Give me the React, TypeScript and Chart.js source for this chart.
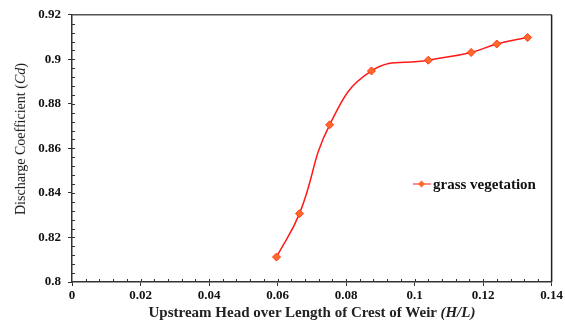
import React, { useEffect, useRef } from "react";
import { Chart, registerables } from "chart.js";

Chart.register(...registerables);

const headRatio = [0.0597, 0.0664, 0.0752, 0.0874, 0.104, 0.1165, 0.124, 0.133];
const dischargeCoef = [0.8112, 0.8307, 0.8706, 0.8948, 0.8996, 0.9031, 0.9069, 0.9098];
const seriesName = "grass vegetation";
const xTickValues = [0, 0.02, 0.04, 0.06, 0.08, 0.1, 0.12, 0.14];
const yTickValues = [0.8, 0.82, 0.84, 0.86, 0.88, 0.9, 0.92];

const FONT = "'Liberation Serif', 'Times New Roman', serif";

const framePlugin = {
  id: "frameAndMinor",
  afterDraw(chart: any) {
    const { ctx, chartArea } = chart;
    const xs = chart.scales.x;
    const ys = chart.scales.y;
    ctx.save();
    ctx.strokeStyle = "#555";
    ctx.lineWidth = 1.5;
    ctx.beginPath();
    ctx.moveTo(chartArea.left, chartArea.top);
    ctx.lineTo(chartArea.right, chartArea.top);
    ctx.stroke();
    ctx.strokeStyle = "#222";
    ctx.beginPath();
    ctx.moveTo(chartArea.right, chartArea.top);
    ctx.lineTo(chartArea.right, chartArea.bottom);
    ctx.stroke();
    ctx.strokeStyle = "#333";
    ctx.lineWidth = 1;
    for (let i = 1; i < 35; i++) {
      const v = i * 0.004;
      const px = Math.round(xs.getPixelForValue(v)) + 0.5;
      ctx.beginPath();
      ctx.moveTo(px, chartArea.bottom);
      ctx.lineTo(px, chartArea.bottom - 3);
      ctx.stroke();
    }
    for (let i = 1; i < 30; i++) {
      const v = 0.8 + i * 0.004;
      const py = Math.round(ys.getPixelForValue(v)) + 0.5;
      ctx.beginPath();
      ctx.moveTo(chartArea.left, py);
      ctx.lineTo(chartArea.left + 3, py);
      ctx.stroke();
    }
    ctx.restore();
  },
};

export default function App() {
  const canvasRef = useRef<HTMLCanvasElement | null>(null);

  useEffect(() => {
    const chart = new Chart(canvasRef.current as HTMLCanvasElement, {
      type: "line",
      data: {
        datasets: [
          {
            label: seriesName,
            data: headRatio.map((x, i) => ({ x, y: dischargeCoef[i] })),
            borderColor: "#ff1a1a",
            borderWidth: 1.5,
            backgroundColor: "#ff6a28",
            pointBackgroundColor: "#ff6a28",
            pointBorderColor: "#ff3a1a",
            pointBorderWidth: 1,
            pointStyle: "rectRot",
            pointRadius: 4,
            tension: 0.45,
            fill: false,
          },
        ],
      },
      options: {
        responsive: false,
        animation: false,
        layout: { padding: { left: 0, top: 9, right: 12, bottom: 0 } },
        plugins: {
          legend: { display: false },
          tooltip: { enabled: false },
        },
        scales: {
          x: {
            type: "linear",
            min: 0,
            max: 0.14,
            afterBuildTicks: (s: any) => {
              s.ticks = xTickValues.map((v) => ({ value: v }));
            },
            afterFit: (s: any) => {
              s.height = 44;
            },
            ticks: {
              color: "#111",
              font: { family: FONT, size: 13, weight: "bold" },
              padding: 2,
              maxRotation: 0,
              callback: (v: any) => String(Number(Number(v).toFixed(2))),
            },
            grid: { drawOnChartArea: false, tickLength: 4, color: "#333" },
            border: { color: "#333", width: 1.5 },
          },
          y: {
            type: "linear",
            min: 0.8,
            max: 0.92,
            afterBuildTicks: (s: any) => {
              s.ticks = yTickValues.map((v) => ({ value: v }));
            },
            afterFit: (s: any) => {
              s.width = 72;
            },
            ticks: {
              color: "#111",
              font: { family: FONT, size: 13, weight: "bold" },
              padding: 7,
              callback: (v: any) => String(Number(Number(v).toFixed(2))),
            },
            grid: { drawOnChartArea: false, tickLength: 4, color: "#333" },
            border: { color: "#333", width: 1.5 },
          },
        },
      },
      plugins: [framePlugin],
    } as any);
    return () => chart.destroy();
  }, []);

  return (
    <div style={{ position: "fixed", left: 0, top: 0, width: 565, height: 326, background: "#fff", fontFamily: FONT }}>
      <canvas ref={canvasRef} width={565} height={326} style={{ display: "block" }} />
      <div
        style={{
          position: "absolute",
          left: 21,
          top: 139,
          width: 0,
          height: 0,
          display: "flex",
          alignItems: "center",
          justifyContent: "center",
        }}
      >
        <div
          style={{
            transform: "rotate(-90deg)",
            whiteSpace: "nowrap",
            fontSize: 14,
            color: "#111",
          }}
        >
          Discharge Coefficient (<i>Cd</i>)
        </div>
      </div>
      <div
        style={{
          position: "absolute",
          left: 312,
          top: 312,
          transform: "translate(-50%, -50%)",
          whiteSpace: "nowrap",
          fontSize: 15,
          fontWeight: "bold",
          color: "#222",
        }}
      >
        Upstream Head over Length of Crest of Weir <i>(H/L)</i>
      </div>
      <div
        style={{
          position: "absolute",
          left: 413,
          top: 184,
          transform: "translateY(-50%)",
          display: "flex",
          alignItems: "center",
          whiteSpace: "nowrap",
          fontSize: 15,
          fontWeight: "bold",
          color: "#111",
        }}
      >
        <span style={{ position: "relative", width: 18, height: 10, display: "inline-block", marginRight: 2 }}>
          <span style={{ position: "absolute", left: 0, right: 0, top: 4, height: 1.5, background: "#ff1a1a" }} />
          <span
            style={{
              position: "absolute",
              left: 6,
              top: 2,
              width: 5,
              height: 5,
              background: "#ff6a28",
              transform: "rotate(45deg)",
            }}
          />
        </span>
        {seriesName}
      </div>
    </div>
  );
}
